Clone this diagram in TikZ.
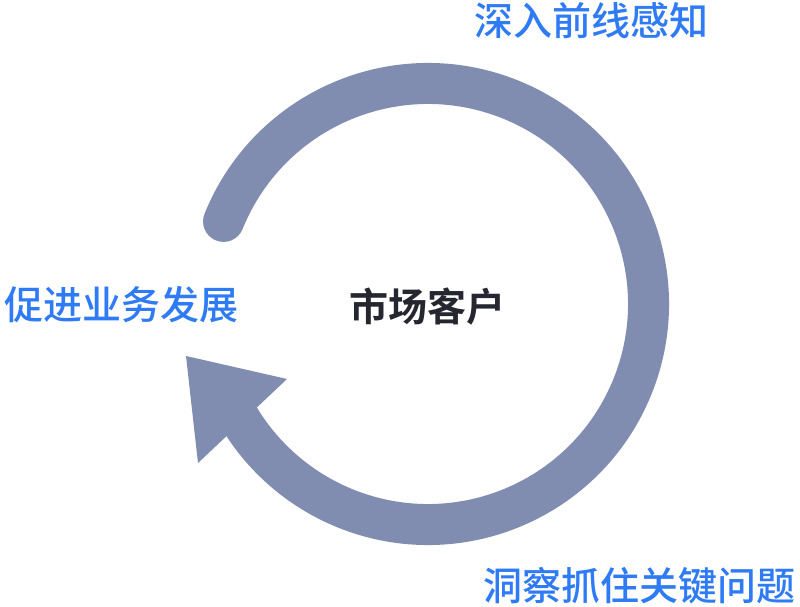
\documentclass[tikz,border=0pt]{standalone}
\usepackage{fontspec}
\newfontfamily\cjk{Noto Sans CJK SC}[BoldFont={Noto Sans CJK SC Bold}]
\newfontfamily\cjkmed{Noto Sans CJK SC Medium}
\definecolor{ringc}{HTML}{818DB0}
\definecolor{bluet}{HTML}{2F7BF6}
\definecolor{darkt}{HTML}{262631}
\begin{document}
\begin{tikzpicture}[x=1pt,y=1pt,
  ring/.style={draw=ringc,line width=41pt,line cap=round},
  headfill/.style={fill=ringc,draw=none},
  label/.style={inner sep=0pt,text=bluet,font=\cjkmed\fontsize{39}{39}\selectfont},
  centertext/.style={inner sep=0pt,text=darkt,font=\cjk\bfseries\fontsize{39}{39}\selectfont}]
\useasboundingbox[fill=white] (0,0) rectangle (800,606);
\coordinate (C) at (428,302);
\draw[ring] ([shift={(158:220.5)}]C) arc[start angle=158,end angle=-150,radius=220.5];
\fill[headfill] (186,250) -- (287,227) -- (198,143) -- cycle;
\node[centertext] (center) at (427,299) {市场客户};
\node[label] (top) at (591,585.5) {深入前线感知};
\node[label] (left) at (121.5,301) {促进业务发展};
\node[label] (bottom) at (639,20) {洞察抓住关键问题};
\end{tikzpicture}
\end{document}
